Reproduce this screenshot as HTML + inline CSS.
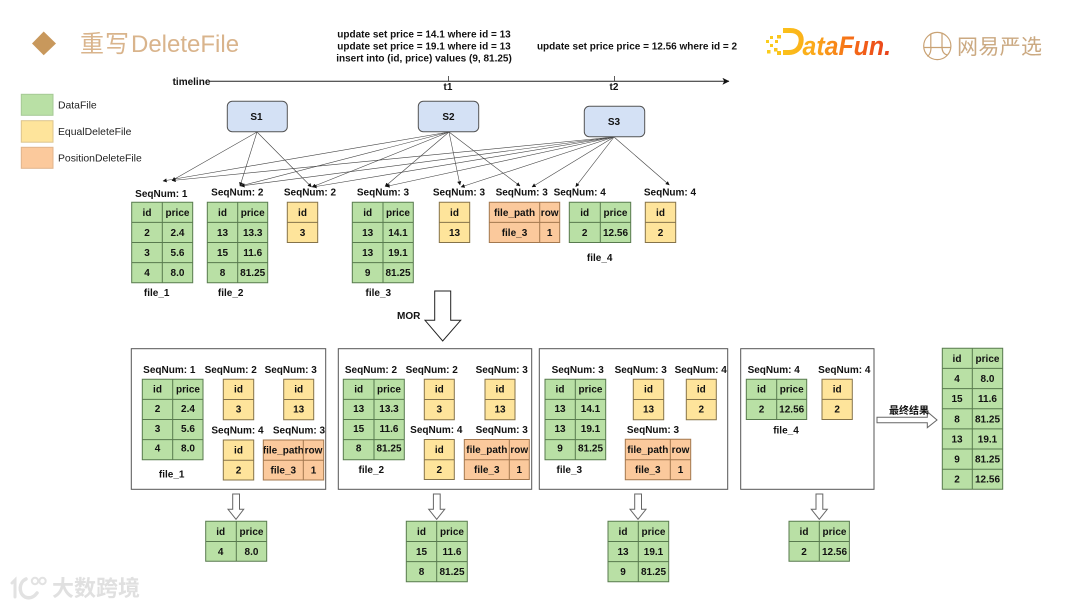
<!DOCTYPE html>
<html><head><meta charset="utf-8">
<style>
html,body{margin:0;padding:0;background:#fff;width:1080px;height:608px;overflow:hidden}
svg{display:block;filter:blur(0.35px)}
text{font-family:"Liberation Sans","Noto Sans CJK SC",sans-serif;font-size:10px;font-weight:bold;fill:#111;text-anchor:middle}
.g{fill:#b9e0a5;stroke:none}.y{fill:#fee49b;stroke:none}.o{fill:#fbc99c;stroke:none}
.gl{fill:none;stroke:#587a4e;stroke-width:1}.yl{fill:none;stroke:#85734a;stroke-width:1}.ol{fill:none;stroke:#a3784f;stroke-width:1}
.box{fill:#fff;stroke:#555;stroke-width:1}
.ed{stroke:#444;stroke-width:.6;fill:none;marker-end:url(#ah)}
.ar{fill:#fff;stroke:#666;stroke-width:1}
.s{fill:#d4e1f5;stroke:#555;stroke-width:1}
.leg{font-weight:normal;font-size:10.4px;text-anchor:start;fill:#222}
</style></head><body>
<svg width="1080" height="608" viewBox="0 0 1080 608" xmlns="http://www.w3.org/2000/svg">
<defs>
<marker id="ah" viewBox="0 0 6 6" refX="5.5" refY="3" markerWidth="4" markerHeight="4" markerUnits="userSpaceOnUse" orient="auto"><path d="M0 0L6 3L0 6Z" fill="#111"/></marker>
<marker id="ah2" viewBox="0 0 8 8" refX="7.5" refY="4" markerWidth="7" markerHeight="7" markerUnits="userSpaceOnUse" orient="auto"><path d="M0 0L8 4L0 8L2 4Z" fill="#111"/></marker>
<linearGradient id="df" x1="765" x2="891" y1="0" y2="0" gradientUnits="userSpaceOnUse"><stop offset="0" stop-color="#fbcf1c"/><stop offset=".4" stop-color="#fba81a"/><stop offset=".7" stop-color="#f56a17"/><stop offset="1" stop-color="#e8401c"/></linearGradient>
</defs>

<!-- Title -->
<path d="M43.7 31.5L56 43.5L43.7 55.3L32 43.5Z" fill="#c8985c"/>
<text x="80" y="52" style="font-size:24px;font-weight:normal;fill:#d9b48c;text-anchor:start;letter-spacing:1px">重写</text>
<text x="131" y="52" style="font-size:24px;font-weight:normal;fill:#d9b48c;text-anchor:start">DeleteFile</text>

<!-- SQL -->
<text x="424" y="37.5">update set price = 14.1 where id = 13</text>
<text x="424" y="49.5">update set price = 19.1 where id = 13</text>
<text x="424" y="61.5">insert into (id, price) values (9, 81.25)</text>
<text x="637" y="49.5">update set price price = 12.56 where id = 2</text>

<!-- DataFun logo -->
<g fill="url(#df)">
<rect x="766" y="40" width="3" height="3"/><rect x="770" y="36" width="3" height="3"/><rect x="770" y="44" width="3" height="3"/><rect x="775" y="40" width="3" height="3"/><rect x="774" y="48" width="3.5" height="3.5"/><rect x="767" y="50" width="3.5" height="3.5"/><rect x="777" y="35" width="4" height="3.5"/><rect x="777" y="51" width="4" height="4"/>
</g>
<path d="M783 30.5H790C799 30.5 802 36 801 42C800 49 795 52.5 789 52.5H783" fill="none" stroke="url(#df)" stroke-width="5"/>
<text x="802.5" y="55" textLength="88.5" lengthAdjust="spacingAndGlyphs" style="font-size:27px;font-style:italic;fill:url(#df);text-anchor:start">ataFun.</text>

<!-- NetEase logo -->
<g fill="none" stroke="#c9a274" stroke-width="1.2">
<circle cx="937.3" cy="46" r="13.6"/>
<path d="M924 47.5H951M930.8 33.5V47M942 33V47C942 52 944 54 947 55M931 47C931 53 929 56 927 56"/>
</g>
<text x="957" y="54" textLength="85" style="font-size:21px;font-weight:normal;fill:#cba981;text-anchor:start;font-family:'WenQuanYi Zen Hei','Noto Sans CJK SC',sans-serif">网易严选</text>

<!-- Timeline -->
<text x="191.5" y="85">timeline</text>
<path d="M210 81.3H729" stroke="#222" stroke-width="1" fill="none" marker-end="url(#ah2)"/>
<path d="M448.5 76V81M614.5 76V81" stroke="#333" stroke-width=".8"/>
<text x="448" y="90">t1</text>
<text x="614" y="90">t2</text>

<!-- Legend -->
<rect x="21.3" y="94.3" width="31.7" height="21" fill="#b9e0a5" stroke="#a5c995"/>
<rect x="21.3" y="120.7" width="31.7" height="21.5" fill="#fee49b" stroke="#dcc48e"/>
<rect x="21.3" y="147.3" width="31.7" height="21" fill="#fbc99c" stroke="#e0b48c"/>
<text class="leg" x="58" y="108.5">DataFile</text>
<text class="leg" x="58" y="135">EqualDeleteFile</text>
<text class="leg" x="58" y="161.5">PositionDeleteFile</text>

<!-- Edges -->
<path class="ed" d="M257 132L172 180.5"/><path class="ed" d="M257 132L240 186"/><path class="ed" d="M257 132L311.5 187"/>
<path class="ed" d="M449 132L163 181"/><path class="ed" d="M449 132L240.5 186"/><path class="ed" d="M449 132L312 187"/><path class="ed" d="M449 132L385 186.5"/><path class="ed" d="M449 132L460 185"/><path class="ed" d="M449 132L520 186"/>
<path class="ed" d="M614 137L172 180.5"/><path class="ed" d="M614 137L241 186"/><path class="ed" d="M614 137L313 187"/><path class="ed" d="M614 137L386 186.5"/><path class="ed" d="M614 137L461 187"/><path class="ed" d="M614 137L532 187"/><path class="ed" d="M614 137L575.7 186.7"/><path class="ed" d="M614 137L669.3 185"/>

<!-- Snapshots -->
<rect class="s" x="227.3" y="101.3" width="60" height="30.4" rx="5"/><text x="256.5" y="120">S1</text>
<rect class="s" x="418.3" y="101.3" width="60.4" height="30.4" rx="5"/><text x="448.5" y="120">S2</text>
<rect class="s" x="584.3" y="106.3" width="60.4" height="30.4" rx="5"/><text x="614" y="125">S3</text>

<!-- Top labels -->
<text x="161.3" y="197">SeqNum: 1</text><text x="237.3" y="195.5">SeqNum: 2</text><text x="310" y="195.5">SeqNum: 2</text><text x="383" y="195.5">SeqNum: 3</text><text x="459" y="195.5">SeqNum: 3</text><text x="521.7" y="195.5">SeqNum: 3</text><text x="579.7" y="195.5">SeqNum: 4</text><text x="670" y="195.5">SeqNum: 4</text>

<!-- Top tables -->
<rect class="g" x="131.7" y="202.3" width="61" height="80.4"/><path class="gl" d="M131.7 202.3H192.7V282.7H131.7ZM162.3 202.3V282.7M131.7 222.4H192.7M131.7 242.5H192.7M131.7 262.6H192.7"/>
<text x="147" y="216">id</text><text x="177.5" y="216">price</text><text x="147" y="236">2</text><text x="177.5" y="236">2.4</text><text x="147" y="256">3</text><text x="177.5" y="256">5.6</text><text x="147" y="276">4</text><text x="177.5" y="276">8.0</text>

<rect class="g" x="207.3" y="202.3" width="60.4" height="80.4"/><path class="gl" d="M207.3 202.3H267.7V282.7H207.3ZM237.7 202.3V282.7M207.3 222.4H267.7M207.3 242.5H267.7M207.3 262.6H267.7"/>
<text x="222.5" y="216">id</text><text x="252.7" y="216">price</text><text x="222.5" y="236">13</text><text x="252.7" y="236">13.3</text><text x="222.5" y="256">15</text><text x="252.7" y="256">11.6</text><text x="222.5" y="276">8</text><text x="252.7" y="276">81.25</text>

<rect class="y" x="287.3" y="202.3" width="30.4" height="40.2"/><path class="yl" d="M287.3 202.3H317.7V242.5H287.3ZM287.3 222.4H317.7"/>
<text x="302.5" y="216">id</text><text x="302.5" y="236">3</text>

<rect class="g" x="352.3" y="202.3" width="61" height="80.4"/><path class="gl" d="M352.3 202.3H413.3V282.7H352.3ZM383 202.3V282.7M352.3 222.4H413.3M352.3 242.5H413.3M352.3 262.6H413.3"/>
<text x="367.7" y="216">id</text><text x="398" y="216">price</text><text x="367.7" y="236">13</text><text x="398" y="236">14.1</text><text x="367.7" y="256">13</text><text x="398" y="256">19.1</text><text x="367.7" y="276">9</text><text x="398" y="276">81.25</text>

<rect class="y" x="439.3" y="202.3" width="30.4" height="40.2"/><path class="yl" d="M439.3 202.3H469.7V242.5H439.3ZM439.3 222.4H469.7"/>
<text x="454.5" y="216">id</text><text x="454.5" y="236">13</text>

<rect class="o" x="489.3" y="202.3" width="70.4" height="40.2"/><path class="ol" d="M489.3 202.3H559.7V242.5H489.3ZM539.7 202.3V242.5M489.3 222.4H559.7"/>
<text x="514.5" y="216">file_path</text><text x="549.7" y="216">row</text><text x="514.5" y="236">file_3</text><text x="549.7" y="236">1</text>

<rect class="g" x="569.3" y="202.3" width="61.4" height="40.2"/><path class="gl" d="M569.3 202.3H630.7V242.5H569.3ZM600.3 202.3V242.5M569.3 222.4H630.7"/>
<text x="584.7" y="216">id</text><text x="615.5" y="216">price</text><text x="584.7" y="236">2</text><text x="615.5" y="236">12.56</text>

<rect class="y" x="645.3" y="202.3" width="30.4" height="40.2"/><path class="yl" d="M645.3 202.3H675.7V242.5H645.3ZM645.3 222.4H675.7"/>
<text x="660.5" y="216">id</text><text x="660.5" y="236">2</text>

<text x="156.7" y="296">file_1</text><text x="230.7" y="296">file_2</text><text x="378.3" y="296">file_3</text><text x="599.7" y="261">file_4</text>

<!-- MOR arrow -->
<path class="ar" style="stroke:#222" d="M434.7 291H450.7V320.3H460.7L442.7 341L425 320.3H434.7Z"/>
<text x="408.7" y="319">MOR</text>

<!-- Boxes -->
<rect class="box" x="131.3" y="348.7" width="194.4" height="140.6"/>
<rect class="box" x="338.3" y="348.7" width="193.4" height="140.6"/>
<rect class="box" x="539.3" y="348.7" width="188.4" height="140.6"/>
<rect class="box" x="740.7" y="348.7" width="133.3" height="140.6"/>

<!-- Box 1 -->
<text x="169.3" y="373">SeqNum: 1</text><text x="230.7" y="373">SeqNum: 2</text><text x="290.7" y="373">SeqNum: 3</text>
<rect class="g" x="142.3" y="379.3" width="60.7" height="80.4"/><path class="gl" d="M142.3 379.3H203V459.7H142.3ZM172.7 379.3V459.7M142.3 399.4H203M142.3 419.5H203M142.3 439.6H203"/>
<text x="157.5" y="392.5">id</text><text x="188" y="392.5">price</text><text x="157.5" y="412">2</text><text x="188" y="412">2.4</text><text x="157.5" y="432">3</text><text x="188" y="432">5.6</text><text x="157.5" y="451.5">4</text><text x="188" y="451.5">8.0</text>
<rect class="y" x="223.3" y="379.3" width="30.4" height="40.4"/><path class="yl" d="M223.3 379.3H253.7V419.7H223.3ZM223.3 399.5H253.7"/>
<text x="238.5" y="392.5">id</text><text x="238.5" y="412.5">3</text>
<rect class="y" x="283.7" y="379.3" width="30" height="40.4"/><path class="yl" d="M283.7 379.3H313.7V419.7H283.7ZM283.7 399.5H313.7"/>
<text x="298.7" y="392.5">id</text><text x="298.7" y="412.5">13</text>
<text x="237.5" y="433.5">SeqNum: 4</text><text x="299" y="433.5">SeqNum: 3</text>
<rect class="y" x="223.3" y="440" width="30.4" height="40"/><path class="yl" d="M223.3 440H253.7V480H223.3ZM223.3 460.3H253.7"/>
<text x="238.5" y="453.5">id</text><text x="238.5" y="473.5">2</text>
<rect class="o" x="263.3" y="440" width="60.4" height="40"/>
<text x="283.3" y="453.5">file_path</text>
<rect class="o" x="303.3" y="440.5" width="20.4" height="39"/>
<path class="ol" d="M263.3 440H323.7V480H263.3ZM303.3 440V480M263.3 460.3H323.7"/>
<text x="313.5" y="453.5">row</text><text x="283.3" y="473.5">file_3</text><text x="313.5" y="473.5">1</text>
<text x="171.7" y="477.5">file_1</text>

<!-- Box 2 -->
<text x="371" y="373">SeqNum: 2</text><text x="431.7" y="373">SeqNum: 2</text><text x="501.7" y="373">SeqNum: 3</text>
<rect class="g" x="343.3" y="379.3" width="61" height="80.4"/><path class="gl" d="M343.3 379.3H404.3V459.7H343.3ZM374 379.3V459.7M343.3 399.4H404.3M343.3 419.5H404.3M343.3 439.6H404.3"/>
<text x="358.7" y="392.5">id</text><text x="389" y="392.5">price</text><text x="358.7" y="412">13</text><text x="389" y="412">13.3</text><text x="358.7" y="432">15</text><text x="389" y="432">11.6</text><text x="358.7" y="451.5">8</text><text x="389" y="451.5">81.25</text>
<rect class="y" x="424.3" y="379.3" width="30" height="40.4"/><path class="yl" d="M424.3 379.3H454.3V419.7H424.3ZM424.3 399.5H454.3"/>
<text x="439.3" y="392.5">id</text><text x="439.3" y="412.5">3</text>
<rect class="y" x="485" y="379.3" width="30" height="40.4"/><path class="yl" d="M485 379.3H515V419.7H485ZM485 399.5H515"/>
<text x="500" y="392.5">id</text><text x="500" y="412.5">13</text>
<text x="436.3" y="433">SeqNum: 4</text><text x="501.7" y="433">SeqNum: 3</text>
<rect class="y" x="424.3" y="439.5" width="30" height="40"/><path class="yl" d="M424.3 439.5H454.3V479.5H424.3ZM424.3 459.7H454.3"/>
<text x="439.3" y="453">id</text><text x="439.3" y="473">2</text>
<rect class="o" x="464.3" y="439.5" width="65" height="40"/><path class="ol" d="M464.3 439.5H529.3V479.5H464.3ZM509.3 439.5V479.5M464.3 459.7H529.3"/>
<text x="486.8" y="453">file_path</text><text x="519.3" y="453">row</text><text x="486.8" y="473">file_3</text><text x="519.3" y="473">1</text>
<text x="371.3" y="473">file_2</text>

<!-- Box 3 -->
<text x="577.7" y="373">SeqNum: 3</text><text x="640.7" y="373">SeqNum: 3</text><text x="700.7" y="373">SeqNum: 4</text>
<rect class="g" x="545" y="379.3" width="60.7" height="80.4"/><path class="gl" d="M545 379.3H605.7V459.7H545ZM575.3 379.3V459.7M545 399.4H605.7M545 419.5H605.7M545 439.6H605.7"/>
<text x="560" y="392.5">id</text><text x="590.5" y="392.5">price</text><text x="560" y="412">13</text><text x="590.5" y="412">14.1</text><text x="560" y="432">13</text><text x="590.5" y="432">19.1</text><text x="560" y="451.5">9</text><text x="590.5" y="451.5">81.25</text>
<rect class="y" x="633.3" y="379.3" width="30.4" height="40.4"/><path class="yl" d="M633.3 379.3H663.7V419.7H633.3ZM633.3 399.5H663.7"/>
<text x="648.5" y="392.5">id</text><text x="648.5" y="412.5">13</text>
<rect class="y" x="686.3" y="379.3" width="30" height="40.4"/><path class="yl" d="M686.3 379.3H716.3V419.7H686.3ZM686.3 399.5H716.3"/>
<text x="701.3" y="392.5">id</text><text x="701.3" y="412.5">2</text>
<text x="653" y="433">SeqNum: 3</text>
<rect class="o" x="625.3" y="439.3" width="65.4" height="40.4"/><path class="ol" d="M625.3 439.3H690.7V479.7H625.3ZM670.3 439.3V479.7M625.3 459.7H690.7"/>
<text x="647.8" y="453">file_path</text><text x="680.5" y="453">row</text><text x="647.8" y="473">file_3</text><text x="680.5" y="473">1</text>
<text x="569.3" y="473">file_3</text>

<!-- Box 4 -->
<text x="773.7" y="373">SeqNum: 4</text><text x="844.3" y="373">SeqNum: 4</text>
<rect class="g" x="746.3" y="379.3" width="60.4" height="40.2"/><path class="gl" d="M746.3 379.3H806.7V419.5H746.3ZM776.7 379.3V419.5M746.3 399.4H806.7"/>
<text x="761.5" y="392.5">id</text><text x="791.7" y="392.5">price</text><text x="761.5" y="412.5">2</text><text x="791.7" y="412.5">12.56</text>
<rect class="y" x="822" y="379.3" width="30.3" height="40.2"/><path class="yl" d="M822 379.3H852.3V419.5H822ZM822 399.4H852.3"/>
<text x="837.2" y="392.5">id</text><text x="837.2" y="412.5">2</text>
<text x="786" y="433.5">file_4</text>

<!-- Result arrow -->
<path class="ar" d="M877 417.3H927.3V411.7L937 420L927.3 427.7V422.7H877Z"/>
<text x="909" y="414">最终结果</text>

<!-- Final table -->
<rect class="g" x="942.3" y="348.3" width="60.4" height="141"/><path class="gl" d="M942.3 348.3H1002.7V489.3H942.3ZM972.3 348.3V489.3M942.3 368.4H1002.7M942.3 388.6H1002.7M942.3 408.7H1002.7M942.3 428.9H1002.7M942.3 449H1002.7M942.3 469.2H1002.7"/>
<text x="957" y="362">id</text><text x="987.5" y="362">price</text>
<text x="957" y="382">4</text><text x="987.5" y="382">8.0</text>
<text x="957" y="402">15</text><text x="987.5" y="402">11.6</text>
<text x="957" y="422.5">8</text><text x="987.5" y="422.5">81.25</text>
<text x="957" y="442.5">13</text><text x="987.5" y="442.5">19.1</text>
<text x="957" y="462.5">9</text><text x="987.5" y="462.5">81.25</text>
<text x="957" y="482.5">2</text><text x="987.5" y="482.5">12.56</text>

<!-- Down arrows -->
<path class="ar" d="M232.7 494H239.5V509.3H243.7L236 519.3L228 509.3H232.7Z"/>
<path class="ar" d="M433.4 494H440.2V509.3H444.7L436.7 519.3L428.7 509.3H433.4Z"/>
<path class="ar" d="M634.7 494H641.5V509.3H646L638 519.3L630 509.3H634.7Z"/>
<path class="ar" d="M816 494H822.8V509.3H827.3L819.3 519.3L811.3 509.3H816Z"/>

<!-- Result tables -->
<rect class="g" x="205.7" y="521.3" width="61" height="40"/><path class="gl" d="M205.7 521.3H266.7V561.3H205.7ZM236.3 521.3V561.3M205.7 541.5H266.7"/>
<text x="220.7" y="535">id</text><text x="251.5" y="535">price</text><text x="220.7" y="555">4</text><text x="251.5" y="555">8.0</text>

<rect class="g" x="406.3" y="521.3" width="61" height="60.4"/><path class="gl" d="M406.3 521.3H467.3V581.7H406.3ZM436.7 521.3V581.7M406.3 541.5H467.3M406.3 561.6H467.3"/>
<text x="421.5" y="535">id</text><text x="452" y="535">price</text><text x="421.5" y="555">15</text><text x="452" y="555">11.6</text><text x="421.5" y="575">8</text><text x="452" y="575">81.25</text>

<rect class="g" x="608" y="521.3" width="60.7" height="60.4"/><path class="gl" d="M608 521.3H668.7V581.7H608ZM638.3 521.3V581.7M608 541.5H668.7M608 561.6H668.7"/>
<text x="623" y="535">id</text><text x="653.5" y="535">price</text><text x="623" y="555">13</text><text x="653.5" y="555">19.1</text><text x="623" y="575">9</text><text x="653.5" y="575">81.25</text>

<rect class="g" x="789" y="521.3" width="60.4" height="40"/><path class="gl" d="M789 521.3H849.4V561.3H789ZM819.3 521.3V561.3M789 541.5H849.4"/>
<text x="804" y="535">id</text><text x="834.5" y="535">price</text><text x="804" y="555">2</text><text x="834.5" y="555">12.56</text>

<!-- Watermark -->
<g fill="none" stroke="#e2e2e2" stroke-width="3" stroke-linecap="round">
<path d="M12 583L15 580V597"/>
<path d="M26 579C19 582 18 593 25 597C30 599 34 597 37 593" stroke-width="3.5"/>
<circle cx="35" cy="581" r="3.2" stroke-width="2"/><circle cx="42.5" cy="581" r="3.2" stroke-width="2"/>
</g>
<text x="52" y="596" textLength="88" style="font-size:22px;fill:#e0e0e0;text-anchor:start;font-weight:bold">大数跨境</text>
</svg>
</body></html>
